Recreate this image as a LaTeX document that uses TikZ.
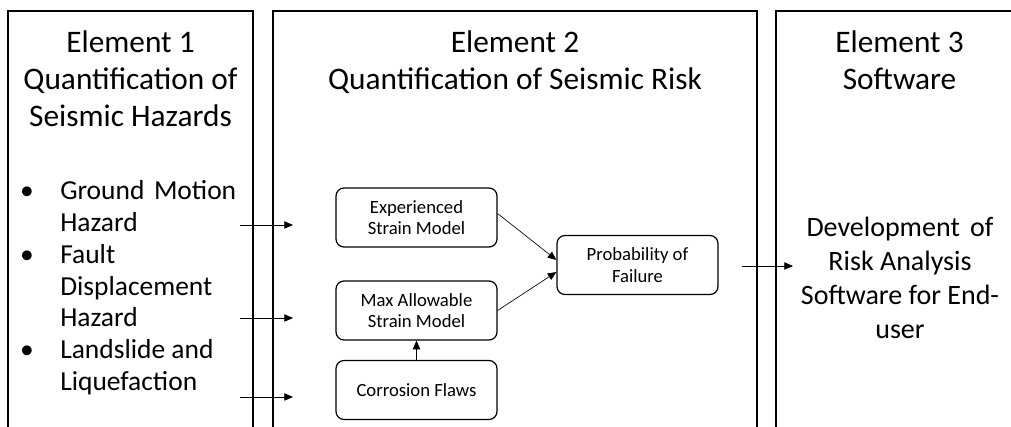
\documentclass[tikz,border=0pt]{standalone}
\usepackage{fontspec}
\setmainfont{Carlito}
\usetikzlibrary{arrows.meta,calc}
\begin{document}
\begin{tikzpicture}[x=0.75pt,y=-0.75pt,
  panel/.style={line width=1pt},
  inbox/.style={draw, rounded corners=6pt, line width=0.9pt, minimum width=120.75pt, minimum height=44.25pt, inner sep=0pt, align=center, font=\fontsize{14}{16.1}\selectfont},
  arr/.style={-{Triangle[length=6.5pt,width=5.5pt]}, line width=0.5pt},
  ttl/.style={align=center, inner sep=0pt, anchor=base, font=\fontsize{23.5}{28.1}\selectfont},
  itm/.style={align=left, inner sep=0pt, anchor=base west, font=\fontsize{20.6}{23.8}\selectfont},
  bul/.style={inner sep=0pt, anchor=base, font=\fontsize{20.6}{23.8}\selectfont}]
\useasboundingbox (0,0) rectangle (1011,427);
\clip (0,0) rectangle (1011,427);
% panels
\draw[panel] (8,440) -- (8,11) -- (253,11) -- (253,440);
\draw[panel] (273,440) -- (273,11) -- (757,11) -- (757,440);
\draw[panel] (776,440) -- (776,11) -- (1040,11) -- (1040,440);
% titles (base = last line)
\node[ttl] (t1) at (130.5,127) {Element 1\\Quantification of\\Seismic Hazards};
\node[ttl] (t2) at (515,89.5) {Element 2\\Quantification of Seismic Risk};
\node[ttl] (t3) at (899.5,89.5) {Element 3\\Software};
% bullets
\node[bul] (b1) at (27,200) {•};
\node[bul] (b2) at (27,263.5) {•};
\node[bul] (b3) at (27,358.5) {•};
\node[itm] (i1) at (60,231.7) {Ground\hspace{2.5pt} Motion\\Hazard};
\node[itm] (i2) at (60,327) {Fault\\Displacement\\Hazard};
\node[itm] (i3) at (60,390.5) {Landslide and\\Liquefaction};
% element 3 body
\node[ttl, font=\fontsize{21}{25.5}\selectfont] (sw) at (900,339) {Development\hspace{3pt} of\\Risk Analysis\\Software for End-\\user};
% inner boxes
\node[inbox] (exp) at (416.5,217.5) {Experienced\\Strain Model};
\node[inbox] (max) at (416.5,310.5) {Max Allowable\\Strain Model};
\node[inbox] (cor) at (416.5,390) {Corrosion Flaws};
\node[inbox] (pof) at (637.5,265) {Probability of\\Failure};
% arrows
\coordinate (a1s) at (240,225); \coordinate (a1e) at (293,225);
\coordinate (a2s) at (240,318); \coordinate (a2e) at (293,318);
\coordinate (a3s) at (240,397); \coordinate (a3e) at (293,397);
\coordinate (a4s) at (742,266); \coordinate (a4e) at (793,266);
\draw[arr] (a1s) -- (a1e);
\draw[arr] (a2s) -- (a2e);
\draw[arr] (a3s) -- (a3e);
\draw[arr] ($(exp.east)+(0,-4)$) -- ($(pof.west)+(0,-5)$);
\draw[arr] (max.east) -- ($(pof.west)+(0,7)$);
\draw[arr] (cor.north) -- (max.south);
\draw[arr] (a4s) -- (a4e);
\end{tikzpicture}
\end{document}
